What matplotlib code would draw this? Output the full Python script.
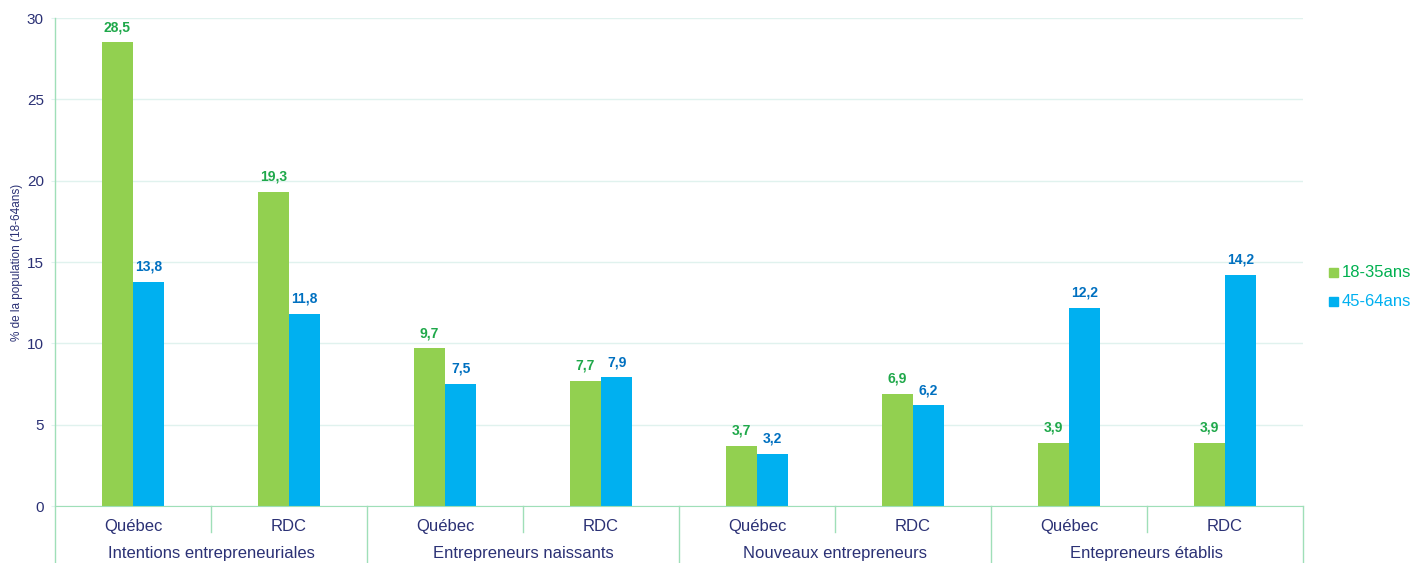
import matplotlib
matplotlib.use("Agg")
import matplotlib.pyplot as plt
import matplotlib.patches as mpatches
import matplotlib.transforms as mtransforms
import numpy as np

plt.rcParams["font.family"] = ["Liberation Sans", "DejaVu Sans"]

# Données
pays = ["Québec", "RDC"] * 4
groupes = ["Intentions entrepreneuriales", "Entrepreneurs naissants",
           "Nouveaux entrepreneurs", "Entepreneurs établis"]
jeunes = [28.5, 19.3, 9.7, 7.7, 3.7, 6.9, 3.9, 3.9]      # 18-35ans
aines = [13.8, 11.8, 7.5, 7.9, 3.2, 6.2, 12.2, 14.2]     # 45-64ans

VERT = "#92d050"
BLEU = "#00b0f0"
TXT_VERT = "#1fa84a"
TXT_BLEU = "#0070c0"
MARINE = "#2b3175"
LIGNE = "#9fdfb8"
GRILLE = "#e0f2ee"

W, H = 1413, 563
fig = plt.figure(figsize=(W / 100, H / 100), dpi=100)
ax = fig.add_axes([55 / W, 1 - 506 / H, 1248 / W, 488 / H])

x = np.arange(len(pays))
w = 0.2
ax.bar(x - w / 2, jeunes, w, color=VERT, zorder=3)
ax.bar(x + w / 2, aines, w, color=BLEU, zorder=3)

for xi, v in zip(x, jeunes):
    ax.text(xi - w / 2, v + 0.5, f"{v:.1f}".replace(".", ","), ha="center",
            va="bottom", fontsize=10, fontweight="bold", color=TXT_VERT)
for xi, v in zip(x, aines):
    ax.text(xi + w / 2, v + 0.5, f"{v:.1f}".replace(".", ","), ha="center",
            va="bottom", fontsize=10, fontweight="bold", color=TXT_BLEU)

ax.set_xlim(-0.5, len(pays) - 0.5)
ax.set_ylim(0, 30)
ax.set_yticks(range(0, 31, 5))
ax.tick_params(axis="y", labelcolor=MARINE, labelsize=11, length=3,
               color=GRILLE, pad=5)
ax.set_xticks([])
ax.yaxis.grid(True, color=GRILLE, linewidth=1, zorder=0)
for s in ["top", "right", "left"]:
    ax.spines[s].set_visible(False)
ax.spines["bottom"].set_color(LIGNE)
ax.spines["bottom"].set_zorder(4)

fig.text(17 / W, 1 - 262 / H, "% de la population (18-64ans)", rotation=90,
         ha="center", va="center", fontsize=8.5, color=MARINE)

# axe catégoriel à deux niveaux
trans = mtransforms.blended_transform_factory(ax.transData, ax.transAxes)
for i, p in enumerate(pays):
    ax.text(i, -0.042, p, transform=trans, ha="center", va="center",
            fontsize=12, color=MARINE)
for g, nom in enumerate(groupes):
    ax.text(2 * g + 0.5, -0.098, nom, transform=trans, ha="center",
            va="center", fontsize=12, color=MARINE)
for b in np.arange(-0.5, len(pays), 1.0):
    bas = -0.117 if int(b + 0.5) % 2 == 0 else -0.053
    haut = 1.0 if b == -0.5 else 0.0
    ax.plot([b, b], [haut, bas], transform=trans, color=LIGNE, linewidth=1,
            clip_on=False, zorder=4)

# légende
for ypix, couleur, txt, tcol in [(272.5, VERT, "18-35ans", "#00b050"),
                                 (301.5, BLEU, "45-64ans", BLEU)]:
    fig.patches.append(mpatches.Rectangle(
        (1329 / W, 1 - (ypix + 4.5) / H), 9 / W, 9 / H, color=couleur,
        transform=fig.transFigure, figure=fig))
    fig.text(1342 / W, 1 - ypix / H, txt, color=tcol, fontsize=12,
             ha="left", va="center")

fig.savefig("out.png", dpi=100, facecolor="white")
